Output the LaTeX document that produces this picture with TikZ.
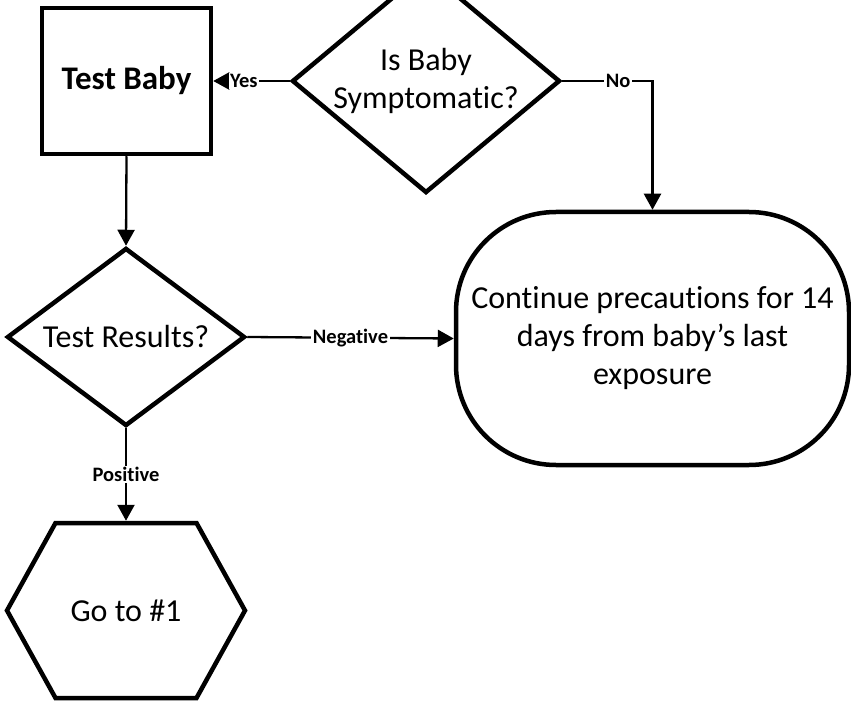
\documentclass[tikz,border=0pt]{standalone}
\usepackage{fontspec}
\setmainfont{Carlito}[Ligatures=NoCommon]
\usetikzlibrary{arrows.meta,shapes,positioning}

\begin{document}
\begin{tikzpicture}[x=1pt, y=-1pt,
    shapebox/.style={draw, line width=4.5pt, inner sep=0pt, align=center, font=\fontsize{32}{38}\selectfont},
    lbl/.style={fill=white, inner sep=1.5pt, font=\bfseries\fontsize{20.5}{24}\selectfont},
    flow/.style={-{Triangle[length=16pt,width=17pt]}, line width=2.3pt}]
    \useasboundingbox (0,0) rectangle (851,703);
    \clip (0,0) rectangle (851,703);

    % Decision: symptoms
    \node[shapebox, diamond, aspect=1.196, minimum width=268, minimum height=224] (symp) at (426,81) {Is Baby\\Symptomatic?};

    % Test box
    \node[shapebox, rectangle, minimum width=169, minimum height=146, font=\bfseries\fontsize{33}{38}\selectfont] (test) at (126.5,81) {Test Baby};

    % Decision: results
    \node[shapebox, diamond, aspect=1.34, minimum width=238, minimum height=178] (res) at (126,337) {Test Results?};

    % Continue precautions (stadium)
    \node[shapebox, rectangle, rounded corners=100pt, minimum width=393, minimum height=253] (cont) at (652.5,338.5) {Continue precautions for 14\\days from baby’s last\\exposure};

    % Go to #1 (hexagon)
    \node[shapebox, signal, signal to=west and east, signal pointer angle=122, minimum width=238, minimum height=175] (goto) at (126,610.5) {Go to \#1};

    % Connectors
    \draw[flow] (symp.west) -- node[lbl, pos=0.6] {Yes} (test.east);
    \draw[flow] (symp.east) -| node[lbl, pos=0.31] {No} (cont.north);
    \draw[flow] (test.south) -- (res.north);
    \draw[flow] (res.east) -- node[lbl] {Negative} (cont.west);
    \draw[flow] (res.south) -- node[lbl] {Positive} (goto.north);
\end{tikzpicture}
\end{document}
